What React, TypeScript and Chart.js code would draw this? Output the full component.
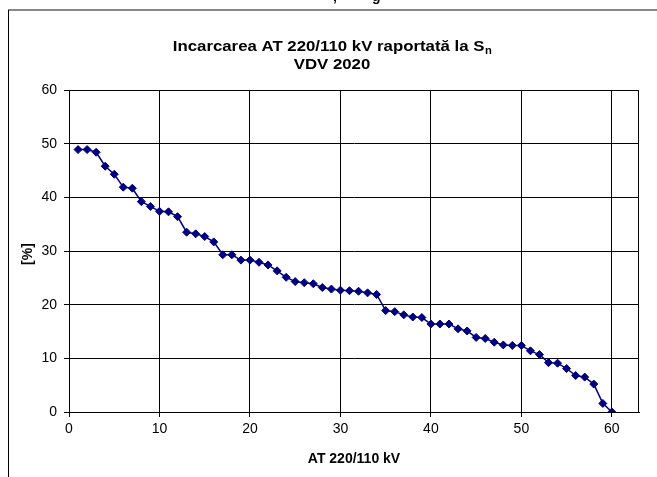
import React, { useEffect, useRef } from 'react';
import { Chart, registerables } from 'chart.js';

Chart.register(...registerables);

// ---- data ----
const unitIndex: number[] = [
  1, 2, 3, 4, 5, 6, 7, 8, 9, 10,
  11, 12, 13, 14, 15, 16, 17, 18, 19, 20,
  21, 22, 23, 24, 25, 26, 27, 28, 29, 30,
  31, 32, 33, 34, 35, 36, 37, 38, 39, 40,
  41, 42, 43, 44, 45, 46, 47, 48, 49, 50,
  51, 52, 53, 54, 55, 56, 57, 58, 59, 60,
];
const loadPercent: number[] = [
  48.9, 48.9, 48.4, 45.8, 44.3, 41.9, 41.7, 39.2, 38.3, 37.4,
  37.3, 36.4, 33.5, 33.2, 32.7, 31.7, 29.3, 29.3, 28.3, 28.3,
  27.9, 27.4, 26.3, 25.1, 24.3, 24.1, 23.9, 23.2, 22.9, 22.7,
  22.6, 22.5, 22.2, 21.9, 18.9, 18.7, 18.1, 17.7, 17.6, 16.4,
  16.4, 16.4, 15.5, 15.1, 13.9, 13.7, 13.0, 12.5, 12.4, 12.4,
  11.4, 10.7, 9.2, 9.1, 8.1, 6.8, 6.5, 5.2, 1.6, 0.0,
];
const xTickValues: number[] = [0, 10, 20, 30, 40, 50, 60];
const yTickValues: number[] = [0, 10, 20, 30, 40, 50, 60];

const titleMain = 'Incarcarea AT 220/110 kV raportată la S';
const titleSub = 'n';
const titleLine2 = 'VDV 2020';
const xAxisTitle = 'AT 220/110 kV';
const yAxisTitle = '[%]';

const FONT = '"Liberation Sans", Arial, sans-serif';

const decorPlugin = {
  id: 'decor',
  beforeDatasetsDraw(chart: any) {
    const { ctx, chartArea } = chart;
    ctx.save();
    ctx.strokeStyle = '#000';
    ctx.lineWidth = 1;
    ctx.strokeRect(
      chartArea.left + 0.5,
      chartArea.top + 0.5,
      chartArea.right - chartArea.left - 1,
      chartArea.bottom - chartArea.top
    );
    ctx.restore();
  },
  afterDraw(chart: any) {
    const { ctx, chartArea } = chart;
    ctx.save();
    // outer frame
    ctx.strokeStyle = '#888';
    ctx.lineWidth = 2;
    ctx.beginPath();
    ctx.moveTo(8, 10);
    ctx.lineTo(657, 10);
    ctx.stroke();
    ctx.strokeStyle = '#000';
    ctx.lineWidth = 1;
    ctx.beginPath();
    ctx.moveTo(8.5, 10);
    ctx.lineTo(8.5, 477);
    ctx.stroke();

    // clipped fragment of preceding text
    ctx.fillStyle = '#000';
    ctx.font = `bold 14px ${FONT}`;
    ctx.textBaseline = 'alphabetic';
    ctx.textAlign = 'left';
    ctx.fillText(',', 333, 1);
    ctx.fillText('g', 372, 1);

    // title
    const cx = 332;
    const sx = 1.12;
    ctx.font = `bold 15px ${FONT}`;
    const wMain = ctx.measureText(titleMain).width;
    ctx.font = `bold 10px ${FONT}`;
    const wSub = ctx.measureText(titleSub).width;
    const total = (wMain + wSub) * sx;
    ctx.save();
    ctx.translate(cx - total / 2, 0);
    ctx.scale(sx, 1);
    ctx.font = `bold 15px ${FONT}`;
    ctx.fillText(titleMain, 0, 50.5);
    ctx.font = `bold 10px ${FONT}`;
    ctx.fillText(titleSub, wMain + 0.5, 53.5);
    ctx.restore();

    ctx.save();
    ctx.translate(cx, 0);
    ctx.scale(sx, 1);
    ctx.font = `bold 15px ${FONT}`;
    ctx.textAlign = 'center';
    ctx.fillText(titleLine2, 0, 68.5);
    ctx.restore();

    // x axis title
    ctx.font = `bold 14px ${FONT}`;
    ctx.textAlign = 'center';
    ctx.fillText(xAxisTitle, (chartArea.left + chartArea.right) / 2, 463);

    // y axis title
    ctx.save();
    ctx.translate(32, (chartArea.top + chartArea.bottom) / 2 + 3);
    ctx.rotate(-Math.PI / 2);
    ctx.textAlign = 'center';
    ctx.fillText(yAxisTitle, 0, 0);
    ctx.restore();

    ctx.restore();
  },
};

export default function App() {
  const canvasRef = useRef<HTMLCanvasElement | null>(null);

  useEffect(() => {
    document.body.style.margin = '0';
    const canvas = canvasRef.current;
    if (!canvas) return;
    const chart = new Chart(canvas, {
      type: 'line',
      data: {
        datasets: [
          {
            data: unitIndex.map((x, i) => ({ x, y: loadPercent[i] })),
            borderColor: '#000080',
            backgroundColor: '#000080',
            borderWidth: 1.5,
            pointStyle: 'rectRot',
            pointRadius: 4,
            pointBorderWidth: 1,
            pointBackgroundColor: '#000080',
            pointBorderColor: '#000080',
            tension: 0,
            fill: false,
          },
        ],
      },
      options: {
        animation: false,
        responsive: false,
        devicePixelRatio: 1,
        layout: { padding: { left: 0, top: 90, right: 18, bottom: 0 } },
        plugins: {
          legend: { display: false },
          title: { display: false },
          tooltip: { enabled: false },
        },
        scales: {
          x: {
            type: 'linear',
            min: 0,
            max: 63,
            afterBuildTicks: (scale: any) => {
              scale.ticks = xTickValues.map((v) => ({ value: v }));
            },
            afterFit: (scale: any) => {
              scale.height = 65;
            },
            ticks: {
              stepSize: 10,
              color: '#000',
              font: { family: FONT, size: 14 },
              padding: 4,
              maxRotation: 0,
            },
            grid: {
              color: '#000',
              lineWidth: 1,
              tickLength: 5,
              drawTicks: true,
            },
            border: { color: '#000', width: 1 },
          },
          y: {
            type: 'linear',
            min: 0,
            max: 60,
            afterBuildTicks: (scale: any) => {
              scale.ticks = yTickValues.map((v) => ({ value: v }));
            },
            afterFit: (scale: any) => {
              scale.width = 69;
            },
            ticks: {
              stepSize: 10,
              color: '#000',
              font: { family: FONT, size: 14 },
              padding: 7,
            },
            grid: {
              color: '#000',
              lineWidth: 1,
              tickLength: 5,
              drawTicks: true,
            },
            border: { color: '#000', width: 1 },
          },
        },
      },
      plugins: [decorPlugin],
    });
    return () => chart.destroy();
  }, []);

  return (
    <div style={{ width: 657, height: 477, position: 'relative' }}>
      <canvas ref={canvasRef} width={657} height={477} style={{ display: 'block' }} />
    </div>
  );
}
